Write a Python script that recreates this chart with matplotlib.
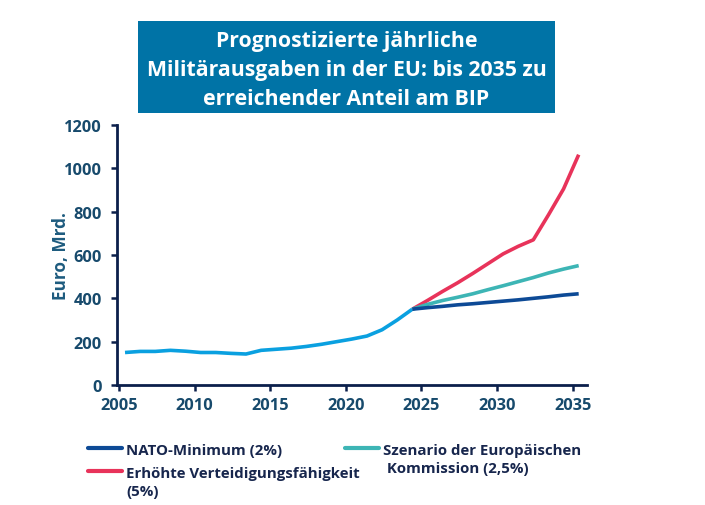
import matplotlib
matplotlib.use("Agg")
import matplotlib.pyplot as plt
from matplotlib.lines import Line2D
from matplotlib.patches import Rectangle

plt.rcParams['font.family'] = ['Open Sans', 'DejaVu Sans']

# ---- data (EUR bn) ----
hist_years = list(range(2005, 2025))
hist_values = [150, 155, 155, 160, 156, 150, 150, 146, 143, 160, 165, 170, 178, 188, 200, 212, 226, 255, 300, 350]

proj_years = list(range(2024, 2036))
nato_values = [350, 357, 363, 370, 375, 381, 387, 393, 400, 407, 415, 421]
ec_values = [350, 372, 390, 405, 421, 440, 458, 477, 496, 517, 535, 551]
high_values = [350, 390, 432, 472, 515, 560, 605, 640, 670, 785, 905, 1063]

x_ticks = [2005, 2010, 2015, 2020, 2025, 2030, 2035]
y_ticks = [0, 200, 400, 600, 800, 1000, 1200]

title = "Prognostizierte jährliche\nMilitärausgaben in der EU: bis 2035 zu\nerreichender Anteil am BIP"
y_label = "Euro, Mrd."
labels = ["NATO-Minimum (2%)",
          "Erhöhte Verteidigungsfähigkeit\n(5%)",
          "Szenario der Europäischen\n Kommission (2,5%)"]

c_hist = "#0aa0e0"
c_nato = "#0d4a96"
c_ec = "#3db5b5"
c_high = "#e8335a"
c_axis = "#0b1f4b"
c_tick = "#174a6c"
c_text = "#17264d"

offset = 0.4  # annual values plotted within the year

W, H = 705, 506
fig = plt.figure(figsize=(W / 100, H / 100), dpi=100)
ax = fig.add_axes([117 / W, 1 - 386 / H, (587 - 117) / W, (386 - 126) / H])

lw = 2.6
ax.plot([y + offset for y in hist_years], hist_values, color=c_hist, lw=lw, solid_capstyle='butt')
ax.plot([y + offset for y in proj_years], high_values, color=c_high, lw=lw, solid_capstyle='butt')
ax.plot([y + offset for y in proj_years], ec_values, color=c_ec, lw=lw, solid_capstyle='butt')
ax.plot([y + offset for y in proj_years], nato_values, color=c_nato, lw=lw, solid_capstyle='butt')

ax.set_xlim(2004.87, 2035.95)
ax.set_ylim(0, 1200)
ax.set_xticks(x_ticks)
ax.set_yticks(y_ticks)
for s in ['top', 'right']:
    ax.spines[s].set_visible(False)
for s in ['left', 'bottom']:
    ax.spines[s].set_color(c_axis)
    ax.spines[s].set_linewidth(2.0)
ax.spines['left'].set_bounds(0, 1200)
ax.tick_params(axis='both', direction='out', length=4, width=1.8, color=c_axis,
               labelcolor=c_tick, labelsize=11.8)
ax.tick_params(axis='y', pad=7)
ax.tick_params(axis='x', pad=5)
for lab in ax.get_xticklabels() + ax.get_yticklabels():
    lab.set_fontweight('bold')
ax.set_ylabel(y_label, fontsize=12.3, fontweight='bold', color="#1d5b7e")
ax.yaxis.set_label_coords(-0.099, 0.5)

# title box
fig.patches.append(Rectangle((138 / W, 1 - 114 / H), (555 - 138) / W, (114 - 22) / H,
                             transform=fig.transFigure, facecolor="#0073a6", edgecolor='none'))
fig.text(346.5 / W, 1 - 70.5 / H, title, ha='center', va='center', color='white',
         fontsize=15.3, fontweight='bold', linespacing=1.5)

# legend (manual)
def legend_item(x0, y0, color, text):
    fig.add_artist(Line2D([x0 / W, (x0 + 34) / W], [1 - y0 / H, 1 - y0 / H],
                          transform=fig.transFigure, color=color, lw=3, solid_capstyle='round'))
    fig.text((x0 + 38) / W, 1 - (y0 - 5) / H, text, ha='left', va='top', color=c_text,
             fontsize=10.8, fontweight='bold', linespacing=1.4)

legend_item(88, 449, c_nato, labels[0])
legend_item(88, 472, c_high, labels[1])
legend_item(345, 449, c_ec, labels[2])

fig.savefig("out.png", dpi=100)
